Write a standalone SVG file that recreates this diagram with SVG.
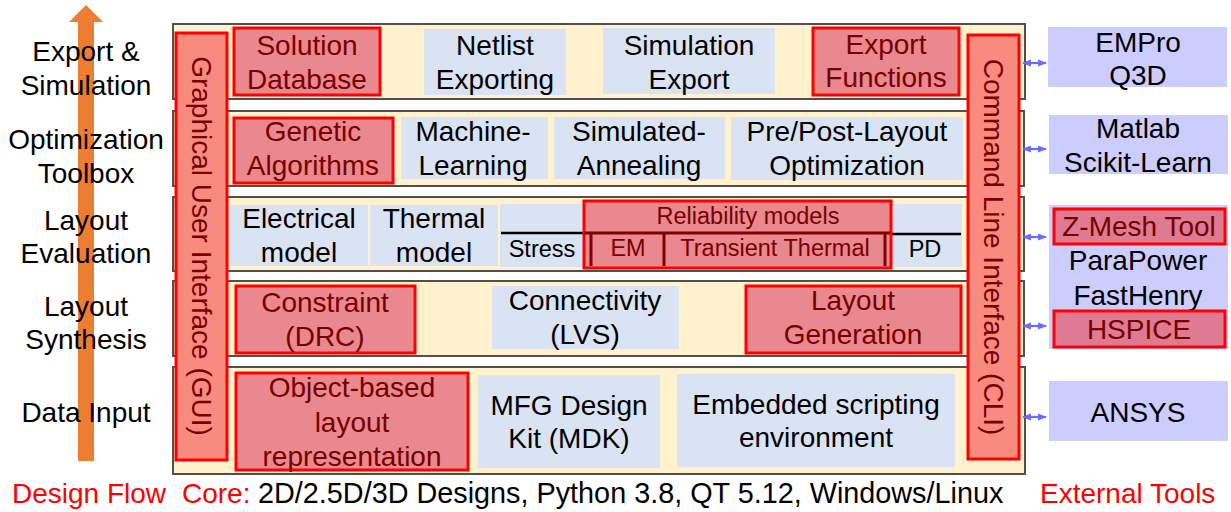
<svg xmlns="http://www.w3.org/2000/svg" width="1231" height="512" viewBox="0 0 1231 512">
<defs>
<style>
text{font-family:"Liberation Sans",Arial,sans-serif;font-size:28px;text-anchor:middle}
.lbl{fill:#000}
.dk{fill:#780000}
.red{fill:#FF0000}
.band{fill:#FFF2CC;stroke:#505050;stroke-width:2}
.blue{fill:#DAE3F3}
.rbox{fill:#E9888F;stroke:#FF0000;stroke-width:3}
.bar{fill:#F98A80;stroke:#FF0000;stroke-width:3}
.lav{fill:#CCCCFF}
.lrbox{fill:#DE7A91;stroke:#FF0000;stroke-width:3}
.sm{font-size:23.5px}
.conn{stroke:#6B6BFF;stroke-width:2.2;fill:none;marker-start:url(#ah);marker-end:url(#ah)}
</style>
<marker id="ah" viewBox="0 0 10 10" refX="9" refY="5" markerWidth="4" markerHeight="4" orient="auto-start-reverse">
<path d="M0,1 L10,5 L0,9 Z" fill="#6B6BFF"/>
</marker>
</defs>
<rect width="1231" height="512" fill="#FFFFFF"/>

<g id="flow-arrow">
<polygon points="78,461 94,461 94,22 103,22 86,5 69,22 78,22" fill="#ED7D31"/>
</g>

<g id="stage-labels">
<text x="86" y="61">Export &amp;</text>
<text x="86" y="95">Simulation</text>
<text x="86" y="149">Optimization</text>
<text x="86" y="183">Toolbox</text>
<text x="86" y="230">Layout</text>
<text x="86" y="263">Evaluation</text>
<text x="86" y="316">Layout</text>
<text x="86" y="349">Synthesis</text>
<text x="86" y="422">Data Input</text>
</g>

<g id="bands">
<rect class="band" x="173" y="24" width="852" height="75"/>
<rect class="band" x="173" y="111" width="851" height="75"/>
<rect class="band" x="173" y="197" width="851" height="74"/>
<rect class="band" x="173" y="281" width="851" height="75"/>
<rect class="band" x="173" y="367" width="852" height="107"/>
</g>

<g id="solution-database">
<rect class="rbox" x="234" y="28" width="146" height="67"/>
<text class="dk" x="307" y="55">Solution</text>
<text class="dk" x="307" y="89">Database</text>
</g>
<g id="netlist-exporting">
<rect class="blue" x="424" y="29" width="142" height="66"/>
<text x="495" y="55">Netlist</text>
<text x="495" y="89">Exporting</text>
</g>
<g id="simulation-export">
<rect class="blue" x="603" y="28" width="172" height="66"/>
<text x="689" y="55">Simulation</text>
<text x="689" y="89">Export</text>
</g>
<g id="export-functions">
<rect class="rbox" x="813" y="28" width="146" height="67"/>
<text class="dk" x="886" y="54">Export</text>
<text class="dk" x="886" y="87">Functions</text>
</g>

<g id="genetic-algorithms">
<rect class="rbox" x="234" y="118" width="159" height="65"/>
<text class="dk" x="313" y="141">Genetic</text>
<text class="dk" x="313" y="175">Algorithms</text>
</g>
<g id="machine-learning">
<rect class="blue" x="401" y="117" width="147" height="62"/>
<text x="473" y="141">Machine-</text>
<text x="473" y="175">Learning</text>
</g>
<g id="simulated-annealing">
<rect class="blue" x="554" y="117" width="171" height="62"/>
<text x="639" y="141">Simulated-</text>
<text x="639" y="175">Annealing</text>
</g>
<g id="pre-post-layout">
<rect class="blue" x="731" y="117" width="232" height="63"/>
<text x="847" y="141">Pre/Post-Layout</text>
<text x="847" y="175">Optimization</text>
</g>

<g id="electrical-model">
<rect class="blue" x="229" y="205" width="139" height="61"/>
<text x="299" y="228">Electrical</text>
<text x="299" y="262">model</text>
</g>
<g id="thermal-model">
<rect class="blue" x="370" y="205" width="128" height="61"/>
<text x="434" y="228">Thermal</text>
<text x="434" y="262">model</text>
</g>
<g id="stress">
<rect class="blue" x="500" y="204" width="84" height="63"/>
<line x1="501" y1="233" x2="584" y2="233" stroke="#000" stroke-width="2.5"/>
<text class="sm" x="542" y="257">Stress</text>
</g>
<g id="pd">
<rect class="blue" x="891" y="204" width="71" height="63"/>
<line x1="891" y1="234" x2="961" y2="234" stroke="#000" stroke-width="2.5"/>
<text class="sm" x="925" y="257">PD</text>
</g>
<g id="reliability-models">
<rect class="rbox" x="584" y="201" width="307" height="67"/>
<text class="dk sm" x="748" y="224">Reliability models</text>
<path d="M584,233 H890 M591,233 V266 M664,233 V266 M885,233 V266" stroke="#7F0000" stroke-width="3" fill="none"/>
<text class="dk sm" x="628" y="256">EM</text>
<text class="dk sm" x="775" y="256">Transient Thermal</text>
</g>

<g id="constraint-drc">
<rect class="rbox" x="236" y="286" width="179" height="67"/>
<text class="dk" x="325" y="312">Constraint</text>
<text class="dk" x="325" y="346">(DRC)</text>
</g>
<g id="connectivity-lvs">
<rect class="blue" x="492" y="286" width="187" height="63"/>
<text x="585" y="310">Connectivity</text>
<text x="585" y="344">(LVS)</text>
</g>
<g id="layout-generation">
<rect class="rbox" x="746" y="286" width="215" height="67"/>
<text class="dk" x="853" y="310">Layout</text>
<text class="dk" x="853" y="344">Generation</text>
</g>

<g id="object-based-layout">
<rect class="rbox" x="236" y="373" width="232" height="97"/>
<text class="dk" x="352" y="397">Object-based</text>
<text class="dk" x="352" y="432">layout</text>
<text class="dk" x="352" y="466">representation</text>
</g>
<g id="mfg-design-kit">
<rect class="blue" x="478" y="375" width="182" height="93"/>
<text x="569" y="415">MFG Design</text>
<text x="569" y="448">Kit (MDK)</text>
</g>
<g id="embedded-scripting">
<rect class="blue" x="677" y="374" width="278" height="93"/>
<text x="816" y="414">Embedded scripting</text>
<text x="816" y="447">environment</text>
</g>

<g id="gui">
<rect class="bar" x="176" y="33" width="51" height="427"/>
<text class="dk" transform="translate(201.5,246) rotate(90)" dominant-baseline="central">Graphical User Interface (GUI)</text>
</g>
<g id="cli">
<rect class="bar" x="968" y="35" width="51" height="424"/>
<text class="dk" transform="translate(993.5,247) rotate(90)" dominant-baseline="central">Command Line Interface (CLI)</text>
</g>

<g id="connectors">
<line class="conn" x1="1023" y1="63" x2="1046" y2="63"/>
<line class="conn" x1="1023" y1="149" x2="1046" y2="149"/>
<line class="conn" x1="1023" y1="237" x2="1046" y2="237"/>
<line class="conn" x1="1023" y1="326" x2="1046" y2="326"/>
<line class="conn" x1="1023" y1="417" x2="1046" y2="417"/>
</g>

<g id="empro-q3d">
<rect class="lav" x="1048" y="27" width="179" height="60"/>
<text x="1138" y="52">EMPro</text>
<text x="1138" y="85">Q3D</text>
</g>
<g id="matlab-scikit">
<rect class="lav" x="1049" y="115" width="179" height="59"/>
<text x="1138" y="138">Matlab</text>
<text x="1138" y="172">Scikit-Learn</text>
</g>
<g id="sim-tools">
<rect class="lav" x="1049" y="205" width="179" height="144"/>
<rect class="lrbox" x="1054" y="209" width="171" height="35"/>
<text class="dk" x="1139" y="236">Z-Mesh Tool</text>
<text x="1138" y="270">ParaPower</text>
<text x="1138" y="305">FastHenry</text>
<rect class="lrbox" x="1054" y="311" width="171" height="36"/>
<text class="dk" x="1139" y="339">HSPICE</text>
</g>
<g id="ansys">
<rect class="lav" x="1049" y="381" width="179" height="60"/>
<text x="1138" y="422">ANSYS</text>
</g>

<g id="footer">
<text class="red" x="12" y="503" style="text-anchor:start">Design Flow</text>
<text class="red" x="182" y="503" style="text-anchor:start">Core:</text>
<text x="258" y="503" style="text-anchor:start;font-size:28.8px">2D/2.5D/3D Designs, Python 3.8, QT 5.12, Windows/Linux</text>
<text class="red" x="1040" y="503" style="text-anchor:start">External Tools</text>
</g>
</svg>
